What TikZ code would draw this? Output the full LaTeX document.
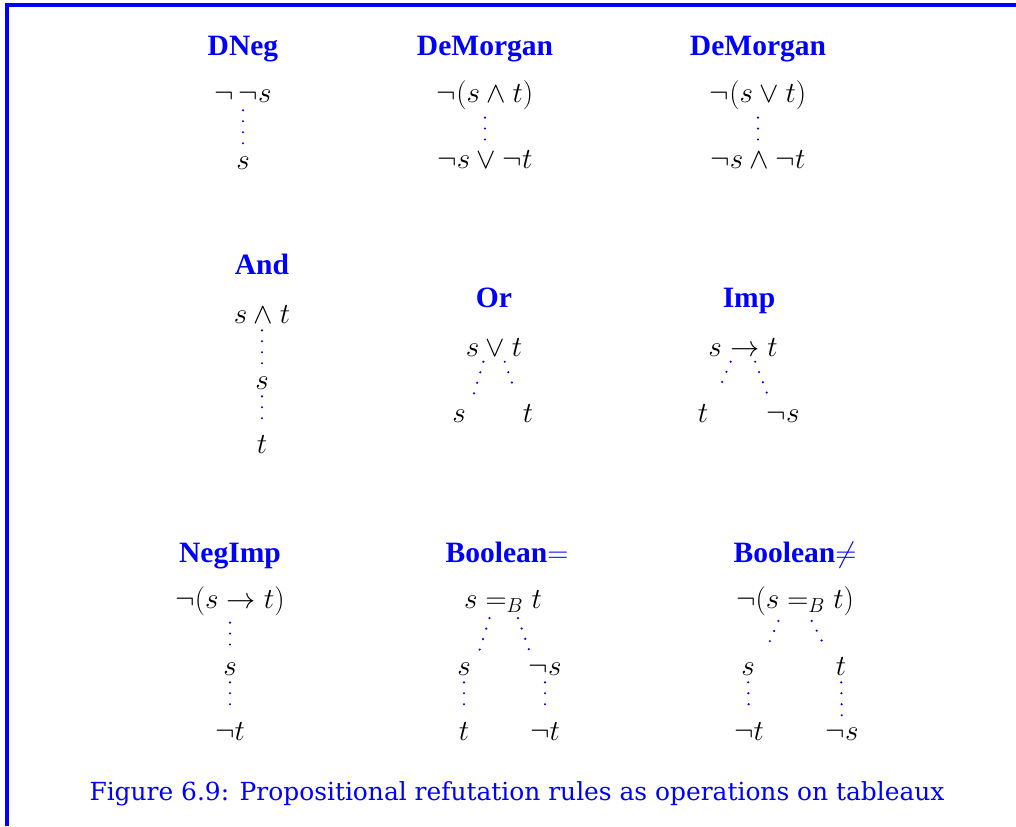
\documentclass[tikz,border=0pt]{standalone}
\usepackage[no-math]{fontspec}
\setmainfont{DejaVu Serif}
\newfontfamily\headfont{Liberation Serif}

\begin{document}
\begin{tikzpicture}[x=0.025cm,y=-0.025cm,
    every node/.style={inner sep=2pt},
    rulename/.style={anchor=base,text=blue,
        font=\headfont\bfseries\fontsize{21}{25}\selectfont},
    fml/.style={anchor=base,font=\fontsize{20.74}{25}\selectfont},
    branch/.style={blue,line width=1.7pt,line cap=round,
        dash pattern=on 0pt off 7.8pt,shorten <=3pt,shorten >=3pt},
    fork/.style={branch,shorten <=2pt,shorten >=7pt}]
  \useasboundingbox (0,0) rectangle (1016,826);
  \draw[blue,line width=2.2pt] (7,826) -- (7,5) -- (1016,5);

  % top row
  \node[rulename] (tDneg) at (243,56) {DNeg};
  \node[fml] (dnegA) at (243,103) {$\neg\,\neg s$};
  \node[fml] (dnegB) at (243,170) {$s$};
  \draw[branch] (dnegA) -- (dnegB);

  \node[rulename] (tDm1) at (485,56) {DeMorgan};
  \node[fml] (dm1A) at (485,103) {$\neg(s\wedge t)$};
  \node[fml] (dm1B) at (485,169) {$\neg s\vee\neg t$};
  \draw[branch] (dm1A) -- (dm1B);

  \node[rulename] (tDm2) at (758,56) {DeMorgan};
  \node[fml] (dm2A) at (758,103) {$\neg(s\vee t)$};
  \node[fml] (dm2B) at (758,169) {$\neg s\wedge\neg t$};
  \draw[branch] (dm2A) -- (dm2B);

  % middle row
  \node[rulename] (tAnd) at (262,275) {And};
  \node[fml] (andA) at (262,323) {$s\wedge t$};
  \node[fml] (andB) at (262,389) {$s$};
  \node[fml] (andC) at (262,453) {$t$};
  \draw[branch] (andA) -- (andB);
  \draw[branch] (andB) -- (andC);

  \node[rulename] (tOr) at (494,308) {Or};
  \node[fml] (orA) at (494,356) {$s\vee t$};
  \node[fml] (orL) at (459,422) {$s$};
  \node[fml] (orR) at (528,422) {$t$};
  \draw[fork] ([xshift=-7pt]orA.south) -- ([xshift=8pt]orL.north);
  \draw[fork] ([xshift=7pt]orA.south) -- ([xshift=-7pt]orR.north);

  \node[rulename] (tImp) at (749,308) {Imp};
  \node[fml] (impA) at (743,356) {$s\rightarrow t$};
  \node[fml] (impL) at (703,422) {$t$};
  \node[fml] (impR) at (783,422) {$\neg s$};
  \draw[fork] ([xshift=-8pt]impA.south) -- ([xshift=8pt]impL.north);
  \draw[fork] ([xshift=8pt]impA.south) -- ([xshift=-8pt]impR.north);

  % bottom row
  \node[rulename] (tNimp) at (230,562) {NegImp};
  \node[fml] (nimpA) at (230,608) {$\neg(s\rightarrow t)$};
  \node[fml] (nimpB) at (230,675) {$s$};
  \node[fml] (nimpC) at (230,740) {$\neg t$};
  \draw[branch] (nimpA) -- (nimpB);
  \draw[branch] (nimpB) -- (nimpC);

  \node[rulename] (tBeq) at (507,562) {Boolean\textmd{$=$}};
  \node[fml] (beqA) at (503,608) {$s=_B t$};
  \node[fml] (beqL) at (464,675) {$s$};
  \node[fml] (beqR) at (545,675) {$\neg s$};
  \node[fml] (beqLL) at (464,740) {$t$};
  \node[fml] (beqRR) at (545,740) {$\neg t$};
  \draw[fork] ([xshift=-9pt]beqA.south) -- ([xshift=9pt]beqL.north);
  \draw[fork] ([xshift=10pt]beqA.south) -- ([xshift=-9pt]beqR.north);
  \draw[branch] (beqL) -- (beqLL);
  \draw[branch] (beqR) -- (beqRR);

  \node[rulename] (tBne) at (795,562) {Boolean\textmd{$\neq$}};
  \node[fml] (bneA) at (795,608) {$\neg(s=_B t)$};
  \node[fml] (bneL) at (748,675) {$s$};
  \node[fml] (bneR) at (841,675) {$t$};
  \node[fml] (bneLL) at (749,740) {$\neg t$};
  \node[fml] (bneRR) at (842,740) {$\neg s$};
  \draw[fork] ([xshift=-11pt]bneA.south) -- ([xshift=10pt]bneL.north);
  \draw[fork] ([xshift=11pt]bneA.south) -- ([xshift=-9pt]bneR.north);
  \draw[branch] (bneL) -- (bneLL);
  \draw[branch] (bneR) -- (bneRR);

  \node[anchor=base,text=blue,font=\fontsize{17.7}{21}\selectfont] (cap) at (517,800)
    {Figure 6.9: Propositional refutation rules as operations on tableaux};
\end{tikzpicture}
\end{document}
